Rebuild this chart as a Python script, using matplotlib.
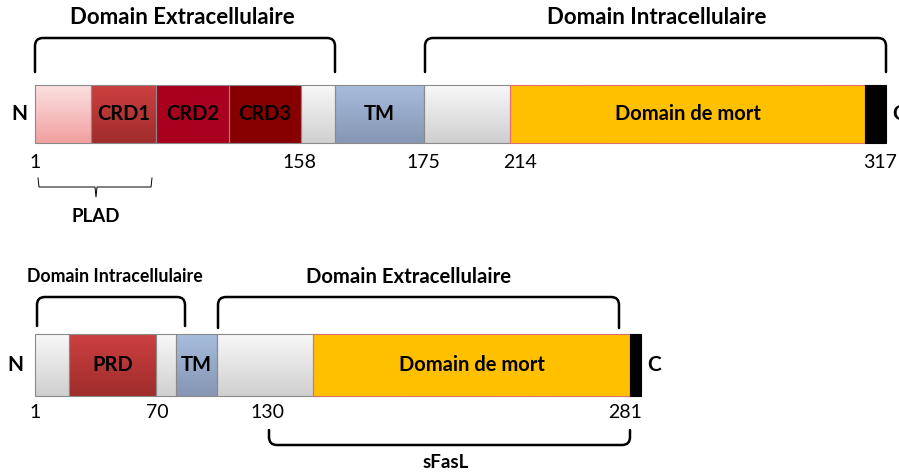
import numpy as np
import matplotlib.pyplot as plt
from matplotlib.path import Path
from matplotlib.patches import PathPatch, Rectangle
from matplotlib.colors import to_rgb

plt.rcParams['font.family'] = ['Lato', 'DejaVu Sans']

# Fas receptor (top) - segment edges along the diagram axis
fas_edges = [35, 91, 156, 229, 301, 335, 424, 510, 865, 886]
fas_labels = ['', 'CRD1', 'CRD2', 'CRD3', '', 'TM', '', 'Domain de mort', '']
fas_top = [('#fbe0e0', '#f2a0a0'), ('#cc4040', '#a02c2c'), ('#a8001e', '#a8001e'),
           ('#870000', '#870000'), ('#f8f8f8', '#d0d0d0'), ('#a8bcdc', '#8696b4'),
           ('#f8f8f8', '#cfcfcf'), ('#ffc000', '#ffc000'), ('#000000', '#000000')]
fas_numbers = ['1', '158', '175', '214', '317']
fas_number_x = [35, 299, 423, 520, 880]

# Fas ligand (bottom)
fasl_edges = [35, 69, 156, 176, 217, 313, 630, 641]
fasl_labels = ['', 'PRD', '', 'TM', '', 'Domain de mort', '']
fasl_top = [('#f8f8f8', '#cfcfcf'), ('#cc4040', '#a02c2c'), ('#f8f8f8', '#d0d0d0'),
            ('#a8bcdc', '#8696b4'), ('#f8f8f8', '#cfcfcf'), ('#ffc000', '#ffc000'),
            ('#000000', '#000000')]
fasl_numbers = ['1', '70', '130', '281']
fasl_number_x = [35, 157, 267, 625]

fig = plt.figure(figsize=(8.99, 4.74), dpi=100)
ax = fig.add_axes([0, 0, 1, 1])
ax.set_xlim(0, 899)
ax.set_ylim(474, 0)
ax.axis('off')


def draw_bar(edges, labels, cols, y0, y1):
    for i in range(len(edges) - 1):
        x0, x1 = edges[i], edges[i + 1]
        c0, c1 = np.array(to_rgb(cols[i][0])), np.array(to_rgb(cols[i][1]))
        t = np.linspace(0, 1, 64)[:, None]
        img = (c0 * (1 - t) + c1 * t)[:, None, :]
        ax.imshow(img, extent=(x0, x1, y1, y0), aspect='auto', zorder=1,
                  interpolation='bilinear')
        ec = '#e07070' if cols[i][0] == '#ffc000' else '#8a8a8a'
        if cols[i][0] == '#000000':
            ec = '#000000'
        ax.add_patch(Rectangle((x0, y0), x1 - x0, y1 - y0, fill=False,
                               ec=ec, lw=0.8, zorder=2))
        if labels[i]:
            ax.text((x0 + x1) / 2, (y0 + y1) / 2, labels[i], ha='center',
                    va='center', fontsize=14.5, fontweight='bold', color='black', zorder=3)


def bracket(x0, x1, ytop, yend, r=8, lw=1.8, down=True):
    s = 1 if down else -1
    verts = [(x0, yend), (x0, ytop + s * r), (x0, ytop), (x0 + r, ytop),
             (x1 - r, ytop), (x1, ytop), (x1, ytop + s * r), (x1, yend)]
    codes = [Path.MOVETO, Path.LINETO, Path.CURVE3, Path.CURVE3,
             Path.LINETO, Path.CURVE3, Path.CURVE3, Path.LINETO]
    ax.add_patch(PathPatch(Path(verts, codes), fill=False, lw=lw, ec='black',
                           capstyle='round', zorder=3))


# top protein
draw_bar(fas_edges, fas_labels, fas_top, 85, 143)
ax.text(19, 114, 'N', ha='center', va='center', fontsize=15, fontweight='bold')
ax.text(892, 114, 'C', ha='left', va='center', fontsize=15, fontweight='bold')
for lab, x in zip(fas_numbers, fas_number_x):
    ax.text(x, 163, lab, ha='center', va='center', fontsize=14)
bracket(35, 335, 38, 72)
bracket(425, 886, 38, 72)
ax.text(182, 17, 'Domain Extracellulaire', ha='center', va='center',
        fontsize=16, fontweight='bold')
ax.text(657, 17, 'Domain Intracellulaire', ha='center', va='center',
        fontsize=16, fontweight='bold')

# PLAD brace
brace = [(38, 178), (39, 187), (95, 187), (96, 197), (97, 187), (151, 187), (152, 178)]
ax.plot([p[0] for p in brace], [p[1] for p in brace], color='black', lw=0.7,
        solid_joinstyle='round')
ax.text(96, 217, 'PLAD', ha='center', va='center', fontsize=13.5, fontweight='bold')

# bottom protein
draw_bar(fasl_edges, fasl_labels, fasl_top, 334, 396)
ax.text(15, 365, 'N', ha='center', va='center', fontsize=15, fontweight='bold')
ax.text(654, 365, 'C', ha='center', va='center', fontsize=15, fontweight='bold')
for lab, x in zip(fasl_numbers, fasl_number_x):
    ax.text(x, 413, lab, ha='center', va='center', fontsize=14)
bracket(37, 185, 297, 326)
bracket(218, 619, 297, 328)
ax.text(115, 277, 'Domain Intracellulaire', ha='center', va='center',
        fontsize=12.8, fontweight='bold')
ax.text(409, 277, 'Domain Extracellulaire', ha='center', va='center',
        fontsize=14.6, fontweight='bold')
bracket(269, 630, 445, 430, down=False)
ax.text(446, 463, 'sFasL', ha='center', va='center', fontsize=13.5, fontweight='bold')

fig.savefig('out.png', dpi=100)
